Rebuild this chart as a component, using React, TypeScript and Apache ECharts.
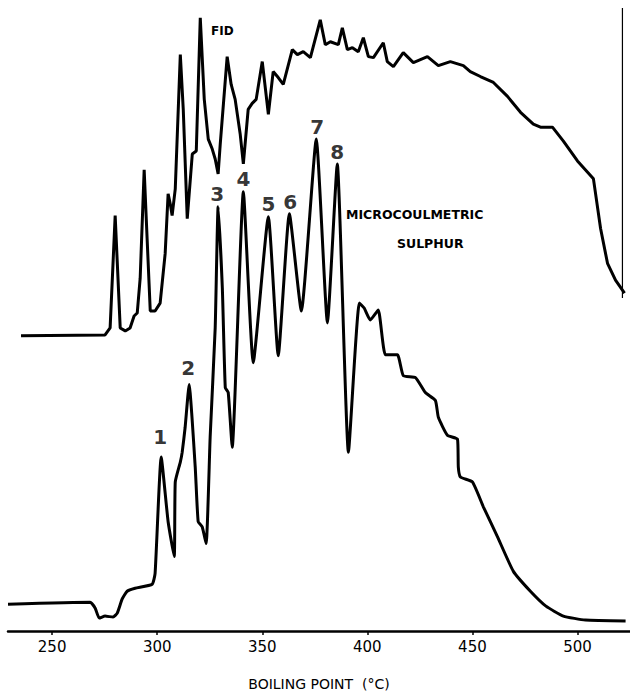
import { useEffect, useRef } from 'react';
import * as echarts from 'echarts';

// boiling point (°C), signal height (arbitrary units)
const fidTrace: [number, number][] = [
  [235.2, 297], [275.2, 298], [277.6, 305], [280.0, 418], [282.4, 305], [284.8, 302], [287.1, 305],
  [289.0, 317], [290.5, 320], [291.9, 355], [293.8, 464], [295.2, 395], [296.7, 322], [299.0, 322],
  [301.4, 330], [303.8, 380], [305.2, 440], [306.2, 430], [307.1, 418], [308.6, 445], [311.0, 580],
  [312.4, 525], [314.3, 415], [316.7, 480], [318.6, 483], [320.5, 617], [322.4, 535], [324.3, 495],
  [326.2, 485], [327.6, 475], [329.0, 460], [330.0, 490], [333.3, 578], [335.2, 550], [337.1, 535],
  [339.5, 500], [341.0, 470], [343.3, 525], [345.2, 531], [347.1, 535], [350.0, 573], [352.9, 520],
  [355.2, 563], [357.6, 557], [360.0, 550], [364.3, 585], [366.7, 580], [369.5, 583], [372.9, 577],
  [377.6, 615], [380.0, 590], [382.4, 593], [386.2, 590], [388.1, 607], [390.5, 585], [392.9, 587],
  [395.7, 583], [398.1, 597], [400.5, 578], [402.9, 577], [407.6, 592], [409.5, 573], [412.4, 568],
  [417.1, 582], [421.9, 572], [428.6, 578], [433.8, 569], [439.5, 573], [445.7, 569], [449.0, 563],
  [453.8, 558], [460.0, 552], [466.7, 538], [472.9, 522], [479.0, 510], [482.4, 507], [488.1, 507],
  [493.3, 493], [500.0, 473], [507.6, 455], [511.0, 405], [514.3, 370], [518.1, 353], [522.4, 340],
];

const sulphurTrace: [number, number][] = [
  [229.0, 27], [268.1, 29], [270.5, 23], [272.4, 13], [275.2, 15], [279.0, 14], [281.0, 18],
  [283.3, 32], [285.7, 40], [289.5, 43], [297.6, 47], [299.0, 58], [301.9, 175], [305.2, 110],
  [308.1, 75], [308.6, 150], [311.0, 170], [311.9, 180], [313.3, 205], [315.2, 248], [318.1, 165],
  [319.5, 110], [321.4, 105], [323.3, 88], [325.2, 195], [327.6, 305], [329.0, 427], [331.0, 345],
  [332.4, 245], [333.8, 240], [335.7, 185], [341.0, 442], [345.7, 270], [352.9, 417], [357.6, 277],
  [362.9, 420], [368.6, 322], [375.7, 495], [381.0, 310], [385.7, 470], [391.0, 180], [396.2, 330],
  [398.5, 325], [401.4, 313], [405.2, 323], [408.6, 278], [414.3, 278], [417.1, 257], [422.9, 255],
  [427.6, 240], [432.4, 232], [433.8, 215], [438.1, 197], [442.9, 193], [443.3, 165], [444.3, 155],
  [450.0, 150], [455.2, 125], [461.9, 95], [469.5, 60], [477.6, 40], [485.0, 25], [493.3, 15],
  [503.8, 11], [522.9, 10],
];

const endMarker: [number, number][] = [[521.4, 627], [521.4, 335]];

const peakLabels = ['1', '2', '3', '4', '5', '6', '7', '8'];
const peakLabelPos: [number, number][] = [
  [301.4, 195], [314.8, 265], [328.6, 440], [341.0, 455], [352.9, 430], [363.3, 432], [376.2, 507], [385.7, 482],
];

const xTicks = [250, 300, 350, 400, 450, 500];

export default function App() {
  const ref = useRef<HTMLDivElement>(null);

  useEffect(() => {
    if (!ref.current) return;
    const chart = echarts.init(ref.current, null, { renderer: 'svg' });
    const font = 'DejaVu Sans';

    chart.setOption({
      animation: false,
      backgroundColor: '#fff',
      grid: { left: 8, right: 0, top: 0, bottom: 61 },
      xAxis: {
        type: 'value',
        min: 229,
        max: 525,
        splitLine: { show: false },
        axisLine: { lineStyle: { color: '#000', width: 2.5 } },
        axisTick: { customValues: xTicks, length: 4, lineStyle: { color: '#000', width: 1.5 } },
        axisLabel: { customValues: xTicks, color: '#000', fontSize: 15, fontFamily: font, margin: 8 },
        name: 'BOILING POINT  (°C)',
        nameLocation: 'middle',
        nameGap: 46,
        nameTextStyle: { color: '#000', fontSize: 14, fontFamily: font },
      },
      yAxis: { type: 'value', min: 0, max: 635, show: false },
      graphic: [
        { type: 'text', left: 211, top: 25, style: { text: 'FID', fontSize: 12, fontWeight: 'bold', fontFamily: font, fill: '#000' } },
        { type: 'text', left: 346, top: 208, style: { text: 'MICROCOULMETRIC', fontSize: 12.5, fontWeight: 'bold', fontFamily: font, fill: '#000' } },
        { type: 'text', left: 397, top: 237, style: { text: 'SULPHUR', fontSize: 12.5, fontWeight: 'bold', fontFamily: font, fill: '#000' } },
      ],
      series: [
        {
          type: 'line', data: fidTrace, symbol: 'none', silent: true,
          lineStyle: { color: '#000', width: 3 },
        },
        {
          type: 'line', data: sulphurTrace, symbol: 'none', silent: true, smooth: 0.15,
          lineStyle: { color: '#000', width: 3 },
        },
        {
          type: 'line', data: endMarker, symbol: 'none', silent: true,
          lineStyle: { color: '#000', width: 1.2 },
        },
        {
          type: 'scatter', symbolSize: 0, silent: true,
          data: peakLabelPos.map((p, i) => ({ value: p, name: peakLabels[i] })),
          label: {
            show: true, position: 'inside', formatter: '{b}',
            color: '#000', fontSize: 20, fontWeight: 'bold', fontFamily: font,
          },
        },
      ],
    });

    return () => chart.dispose();
  }, []);

  return <div ref={ref} style={{ position: 'fixed', left: 0, top: 0, width: 630, height: 696 }} />;
}
